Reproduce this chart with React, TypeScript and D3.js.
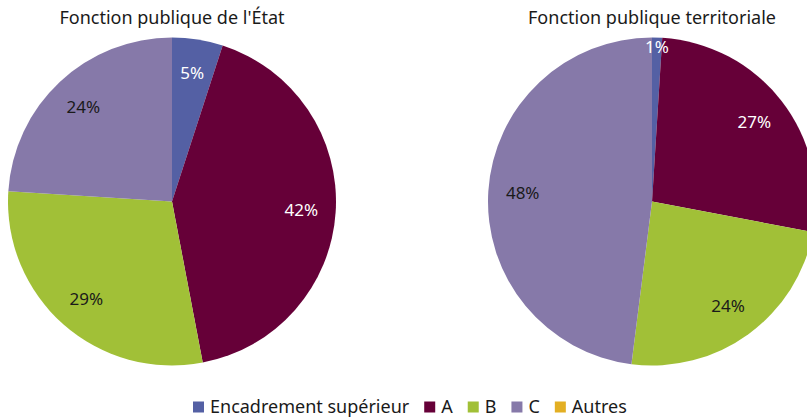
import React, { useEffect, useRef } from "react";
import * as d3 from "d3";

const categories = ["Encadrement supérieur", "A", "B", "C", "Autres"];
const colors = ["#5460A4", "#660038", "#A1C037", "#8679A9", "#E3AF23"];
const labelColors = ["#ffffff", "#ffffff", "#1a1a1a", "#1a1a1a", "#1a1a1a"];
const etatValues = [5, 42, 29, 24, 0];
const territorialeValues = [1, 27, 24, 48, 0];
const titles = ["Fonction publique de l'État", "Fonction publique territoriale"];

const W = 807;
const H = 420;
const FONT = "'Noto Sans', 'Open Sans', sans-serif";

export default function App() {
  const ref = useRef<SVGSVGElement>(null);

  useEffect(() => {
    const svg = d3.select(ref.current);
    svg.selectAll("*").remove();

    const R = 164;
    const centers = [
      { x: 172, y: 201.5 },
      { x: 652, y: 201.5 },
    ];
    const datasets = [etatValues, territorialeValues];

    const pie = d3
      .pie<number>()
      .sort(null)
      .value((d) => d);
    const arc = d3.arc<d3.PieArcDatum<number>>().innerRadius(0).outerRadius(R);

    datasets.forEach((vals, i) => {
      const g = svg
        .append("g")
        .attr("transform", `translate(${centers[i].x},${centers[i].y})`);
      const arcs = pie(vals);
      g.selectAll("path")
        .data(arcs)
        .join("path")
        .attr("d", (d) => arc(d) as string)
        .attr("fill", (_, j) => colors[j]);

      g.selectAll("text.lbl")
        .data(arcs.filter((d) => d.data > 0))
        .join("text")
        .attr("class", "lbl")
        .attr("transform", (d) => {
          const a = (d.startAngle + d.endAngle) / 2;
          const r = d.data < 3 ? R * 0.94 : R * 0.79;
          return `translate(${Math.sin(a) * r},${-Math.cos(a) * r})`;
        })
        .attr("text-anchor", "middle")
        .attr("dy", "0.35em")
        .attr("font-family", FONT)
        .attr("font-size", 17)
        .attr("fill", (d) => labelColors[d.index])
        .text((d) => `${d.data}%`);

      svg
        .append("text")
        .attr("x", centers[i].x)
        .attr("y", 24)
        .attr("text-anchor", "middle")
        .attr("font-family", FONT)
        .attr("font-size", 18)
        .attr("fill", "#1a1a1a")
        .text(titles[i]);
    });

    // Legend
    const legend = svg.append("g");
    const items = legend
      .selectAll("g")
      .data(categories)
      .join("g");
    items
      .append("rect")
      .attr("width", 11)
      .attr("height", 11)
      .attr("y", -5.5)
      .attr("fill", (_, j) => colors[j]);
    items
      .append("text")
      .attr("x", 17)
      .attr("dy", "0.35em")
      .attr("font-family", FONT)
      .attr("font-size", 18)
      .attr("fill", "#1a1a1a")
      .text((d) => d);
    let x = 0;
    const offsets: number[] = [];
    items.each(function () {
      const t = d3.select(this).select("text").node() as SVGTextElement;
      offsets.push(x);
      x += 17 + t.getComputedTextLength() + 15;
    });
    const start = 193;
    items.attr("transform", (_, j) => `translate(${offsets[j]},0)`);
    legend.attr("transform", `translate(${start},407)`);
  }, []);

  return (
    <div style={{ position: "fixed", left: 0, top: 0, width: W, height: H, background: "#fff" }}>
      <svg ref={ref} width={W} height={H} style={{ display: "block" }} />
    </div>
  );
}
